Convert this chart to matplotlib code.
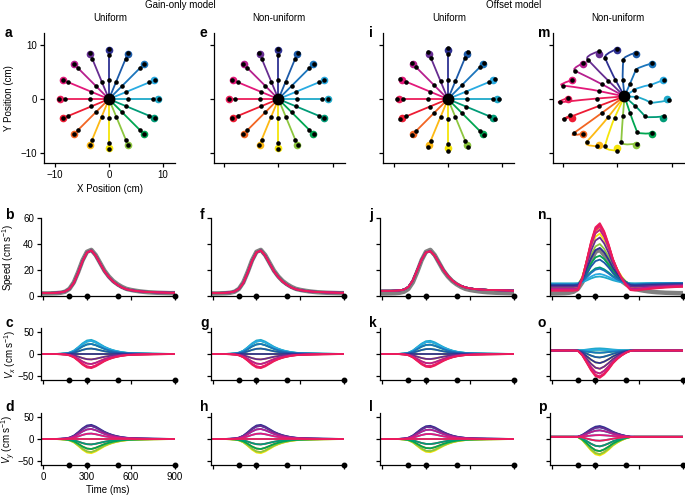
import numpy as np
import matplotlib.pyplot as plt
from matplotlib.path import Path
from matplotlib.patches import PathPatch

plt.rcParams['font.family'] = ['Liberation Sans', 'DejaVu Sans']
plt.rcParams['mathtext.fontset'] = 'custom'
plt.rcParams['mathtext.rm'] = 'Liberation Sans'
plt.rcParams['mathtext.it'] = 'Liberation Sans:italic'
plt.rcParams['font.size'] = 7
plt.rcParams['axes.linewidth'] = 0.9
for a in ['xtick', 'ytick']:
    plt.rcParams[a + '.major.size'] = 3
    plt.rcParams[a + '.major.width'] = 0.9
    plt.rcParams[a + '.major.pad'] = 2

# reach directions (deg) and their colours
directions = [0, 22.5, 45, 67.5, 90, 112.5, 135, 157.5, 180, 202.5, 225, 247.5, 270, 292.5, 315, 337.5]
colors = ['#1fa9c9', '#29abe2', '#1b75bc', '#1c5aa8', '#2e3192', '#662d91', '#b61f8e', '#e3197a',
          '#ec1c5a', '#ed1c34', '#f26522', '#fdb913', '#f5e50a', '#8dc63f', '#00a651', '#009b77']
draw_order = [9, 10, 11, 12, 13, 14, 15, 0, 1, 2, 3, 4, 5, 6, 7, 8]

# time base and marker events (ms)
time_ms = list(range(0, 901, 30))
event_ms = [180, 300, 510, 900]

# speed profiles (cm/s) sampled every 30 ms
speed_data = [2.0, 2.0, 2.1, 2.2, 2.5, 3.3, 5.5, 10.5, 18.5, 27.5, 34, 35.5, 31.5, 25.5, 19.5, 15,
              11.5, 9, 7, 5.5, 4.7, 4.1, 3.6, 3.2, 2.9, 2.7, 2.5, 2.4, 2.3, 2.2, 2.2]
speed_gain = [2.3, 2.3, 2.4, 2.5, 2.8, 3.5, 5.5, 10, 18, 27, 33.5, 35, 31, 25, 19, 14.5,
              11, 8.5, 6.5, 5.2, 4.5, 4.0, 3.6, 3.3, 3.1, 2.9, 2.8, 2.7, 2.6, 2.5, 2.5]
speed_offset_uni = [4.0, 4.0, 4.0, 4.1, 4.3, 5.0, 7.0, 12, 20, 28, 33.5, 34.5, 31, 25.5, 20, 15.5,
                    12, 9.5, 7.8, 6.6, 5.9, 5.4, 5.1, 4.9, 4.7, 4.6, 4.5, 4.4, 4.3, 4.2, 4.1]

# offset model, non-uniform: normalised pulse and settling shapes
pulse_nu = [0, 0, 0, 0, 0, 0, 0.01, 0.18, 0.45, 0.73, 0.94, 1.0, 0.88, 0.69, 0.47, 0.31,
            0.18, 0.08, 0.01, 0, 0, 0, 0, 0, 0, 0, 0, 0, 0, 0, 0]
settle_nu = [0] * 19 + [0.05, 0.15, 0.3, 0.42, 0.53, 0.63, 0.72, 0.8, 0.87, 0.93, 0.97, 1.0]
n_peak = [15, 17, 21, 28, 37, 45, 51, 54, 56, 55, 53, 51, 48, 40, 31, 22]
n_base0 = [9.5, 9.5, 9, 8.5, 8, 7, 5.5, 4.5, 4, 4.5, 5.5, 6.5, 7.5, 8.5, 9, 9.5]
n_base1 = [10, 10, 10, 9.5, 9, 8.5, 8, 7.5, 7, 7.5, 8, 8.5, 9, 9.5, 10, 10]
o_base = 8
o_peak = [13, 10, 3, -8, -21, -34, -45, -52, -55, -52, -45, -34, -21, -8, 3, 10]
p_base = 5
p_peak = [-4, 9, 20, 27, 30, 27, 20, 9, -4, -17, -28, -35, -38, -35, -28, -17]

# straight trajectories: radii (cm) of the time markers and targets
target_r = 9.1
dots_r_gain = [3.5, 8.1, 9.2]
dots_r_offset = [3.6, 8.3, 9.5]

# curved trajectories (offset model, non-uniform), positions in cm
m_start = (1.3, 0.5)
m_p300_x = [3.4, 3.1, 2.3, 1.0, -0.4, -1.7, -2.8, -3.5, -3.8, -3.5, -2.8, -1.7, -0.5, 1.0, 2.3, 3.2]
m_p300_y = [0.4, 1.7, 2.8, 3.5, 3.6, 3.4, 2.7, 1.5, 0.1, -1.3, -2.5, -3.3, -3.4, -3.2, -2.5, -1.2]
m_p510_x = [6.0, 6.0, 3.4, 1.1, -2.3, -5.5, -7.8, -10.1, -10.6, -9.8, -8.1, -5.7, -2.3, 0.7, 3.6, 5.1]
m_p510_y = [-0.6, 2.6, 5.4, 7.3, 7.6, 7.3, 5.2, 2.5, -0.6, -3.7, -6.3, -7.9, -8.6, -7.9, -6.0, -3.2]
m_end_x = [9.5, 8.6, 6.4, 3.5, 0.0, -3.5, -6.4, -8.4, -9.2, -8.7, -6.4, -3.7, 0.0, 3.6, 6.4, 8.6]
m_end_y = [-0.2, 3.6, 6.6, 8.6, 9.3, 8.8, 6.6, 3.5, 0.2, -3.0, -6.4, -8.7, -9.5, -8.2, -6.3, -3.2]

W, H = 685, 497
col_left = [44, 213.5, 383, 552.5]
fig = plt.figure(figsize=(W / 100, H / 100), dpi=100)


def clean(ax):
    ax.spines['top'].set_visible(False)
    ax.spines['right'].set_visible(False)


def traj_axes(col):
    ax = fig.add_axes([col_left[col] / W, 1 - 163 / H, 131 / W, 130 / H])
    clean(ax)
    ax.set_xlim(-12, 12.2)
    ax.set_ylim(-11.8, 12.2)
    ax.set_xticks([-10, 0, 10])
    ax.set_yticks([-10, 0, 10])
    if col == 0:
        ax.set_xlabel('X Position (cm)', labelpad=3)
        ax.set_ylabel('Y Position (cm)')
        ax.yaxis.set_label_coords(-0.23, 0.5)
    else:
        ax.set_xticklabels([])
        ax.set_yticklabels([])
    return ax


def time_axes(col, top, height, ylim, yticks):
    ax = fig.add_axes([(col_left[col] - 3) / W, 1 - (top + height) / H, 133.5 / W, height / H])
    clean(ax)
    ax.set_xlim(-15, 900)
    ax.set_ylim(*ylim)
    ax.set_xticks([0, 300, 600, 900])
    ax.set_yticks(yticks)
    ax.set_xticklabels([])
    if col != 0:
        ax.set_yticklabels([])
    ax.plot(event_ms, [ylim[0]] * len(event_ms), 'o', color='k', ms=3.2, clip_on=False, zorder=6)
    return ax


def draw_straight(ax, dots_r):
    for k in draw_order:
        th = np.deg2rad(directions[k])
        c, s = np.cos(th), np.sin(th)
        ax.plot([0, dots_r[-1] * c], [0, dots_r[-1] * s], color=colors[k], lw=1.3, zorder=2)
        ax.plot(target_r * c, target_r * s, 'o', color=colors[k], ms=5.5, mec='none', zorder=3)
    for k in draw_order:
        th = np.deg2rad(directions[k])
        ax.plot(np.array(dots_r) * np.cos(th), np.array(dots_r) * np.sin(th), 'o', color='k',
                ms=3.3, mec='none', zorder=4)
    ax.plot(0, 0, 'o', color='k', ms=7.5, zorder=5)


def draw_curved(ax):
    sx, sy = m_start
    for k in draw_order:
        th = np.deg2rad(directions[k])
        p3 = np.array([m_p300_x[k], m_p300_y[k]])
        p5 = np.array([m_p510_x[k], m_p510_y[k]])
        pe = np.array([m_end_x[k], m_end_y[k]])
        st = np.array([sx, sy])
        ca = p3 + 0.45 * (p3 - st)
        cb = p5 + 0.25 * (p5 - ca)
        path = Path([st, p3, ca, p5, cb, pe],
                    [Path.MOVETO, Path.LINETO, Path.CURVE3, Path.CURVE3, Path.CURVE3, Path.CURVE3])
        ax.add_patch(PathPatch(path, fc='none', ec=colors[k], lw=1.3, zorder=2))
        ax.plot(target_r * np.cos(th), target_r * np.sin(th), 'o', color=colors[k], ms=5.5,
                mec='none', zorder=3)
    ax.plot(m_p300_x + m_p510_x + m_end_x, m_p300_y + m_p510_y + m_end_y, 'o', color='k',
            ms=3.3, mec='none', zorder=4)
    ax.plot(sx, sy, 'o', color='k', ms=7.5, zorder=5)


def speed_panel(col, model):
    ax = time_axes(col, 218, 78, (0, 60), [0, 20, 40, 60])
    ax.plot(time_ms, speed_data, color='#808080', lw=3.2, zorder=1)
    for k in draw_order:
        ax.plot(time_ms, model[k], color=colors[k], lw=1.3, zorder=2)
    if col == 0:
        ax.set_ylabel('Speed (cm s$^{-1}$)')
        ax.yaxis.set_label_coords(-0.19, 0.5)
    return ax


def vel_panel(col, top, curves, label):
    ax = time_axes(col, top, 52, (-60, 60), [-50, 0, 50])
    for k in draw_order:
        ax.plot(time_ms, curves[k], color=colors[k], lw=1.3, zorder=2)
    if col == 0:
        ax.set_ylabel(label)
        ax.yaxis.set_label_coords(-0.17, 0.5)
    return ax


# trajectories
draw_straight(traj_axes(0), dots_r_gain)
draw_straight(traj_axes(1), dots_r_gain)
draw_straight(traj_axes(2), dots_r_offset)
draw_curved(traj_axes(3))

# velocity profiles per column
g = np.array(speed_gain)
ou = np.array(speed_offset_uni)
pulse = np.array(pulse_nu)
settle = np.array(settle_nu)
rad = np.deg2rad(directions)

cols_speed = [
    [g] * 16,
    [g] * 16,
    [ou] * 16,
    [n_base0[k] + (n_peak[k] - n_base0[k]) * pulse + (n_base1[k] - n_base0[k]) * settle for k in range(16)],
]
cols_vx = [
    [(g - g[0]) * np.cos(r) for r in rad],
    [(g - g[0]) * np.cos(r) for r in rad],
    [(ou - ou[0]) * np.cos(r) for r in rad],
    [o_base + (o_peak[k] - o_base) * pulse for k in range(16)],
]
cols_vy = [
    [(g - g[0]) * np.sin(r) for r in rad],
    [(g - g[0]) * np.sin(r) for r in rad],
    [(ou - ou[0]) * np.sin(r) for r in rad],
    [p_base + (p_peak[k] - p_base) * pulse for k in range(16)],
]

for col in range(4):
    speed_panel(col, cols_speed[col])
    vel_panel(col, 328, cols_vx[col], '$V_x$ (cm s$^{-1}$)')
    axd = vel_panel(col, 413, cols_vy[col], '$V_y$ (cm s$^{-1}$)')
    if col == 0:
        axd.set_xticklabels(['0', '300', '600', '900'])
        axd.set_xlabel('Time (ms)', labelpad=2)

# panel letters
letter_x = [5, 200, 369, 538]
letter_y = [33, 215, 323, 407]
letters = ['aeim', 'bfjn', 'cgko', 'dhlp']
for r in range(4):
    for c in range(4):
        fig.text(letter_x[c] / W, 1 - letter_y[r] / H, letters[r][c], fontsize=10,
                 fontweight='bold', ha='left', va='center')

# headings
fig.text(180 / W, 1 - 5 / H, 'Gain-only model', ha='center', va='center', fontsize=7)
fig.text(514 / W, 1 - 5 / H, 'Offset model', ha='center', va='center', fontsize=7)
for x, t in zip([110, 279, 449, 618], ['Uniform', 'Non-uniform', 'Uniform', 'Non-uniform']):
    fig.text(x / W, 1 - 18 / H, t, ha='center', va='center', fontsize=7)

fig.savefig('out.png', dpi=100)
